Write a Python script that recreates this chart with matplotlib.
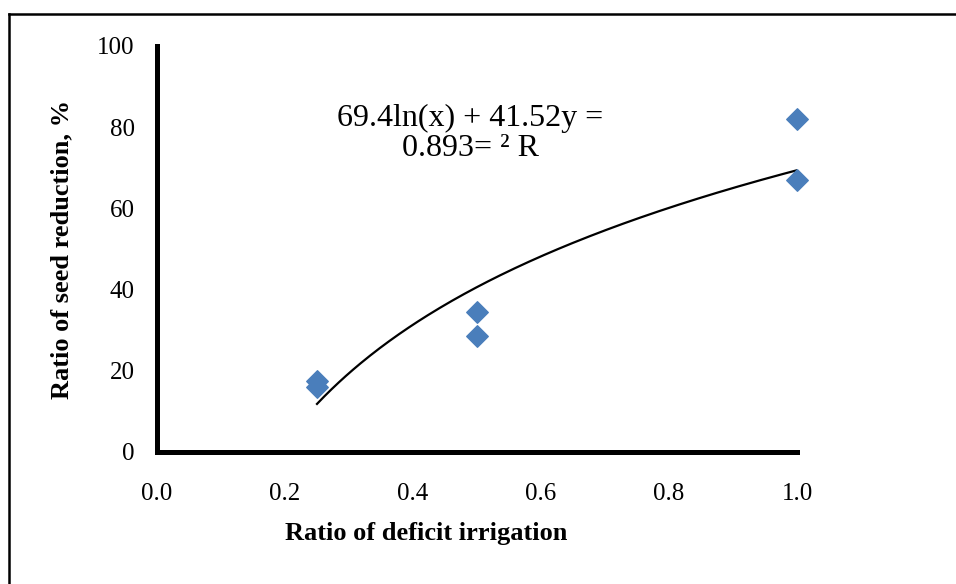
import numpy as np
import matplotlib.pyplot as plt
from matplotlib.lines import Line2D

# Data
deficit_ratio = [0.25, 0.25, 0.5, 0.5, 1.0, 1.0]
seed_reduction = [17.5, 16.0, 34.5, 28.5, 82.0, 67.0]

# Log trendline y = a*ln(x) + b
fit_a = 41.52
fit_b = 69.4
eq_text = "69.4ln(x) + 41.52y =\n0.893= \u00b2 R"

xticks = [0.0, 0.2, 0.4, 0.6, 0.8, 1.0]
yticks = [0, 20, 40, 60, 80, 100]

plt.rcParams['font.family'] = ['Liberation Serif', 'DejaVu Serif']

fig = plt.figure(figsize=(9.56, 5.84), dpi=100)
ax = fig.add_axes([157 / 956, 1 - 452 / 584, 640 / 956, 406 / 584])

ax.scatter(deficit_ratio, seed_reduction, marker='D', s=120, color='#4a7ebb',
           zorder=3, clip_on=False)

xs = np.linspace(0.25, 1.0, 200)
ax.plot(xs, fit_a * np.log(xs) + fit_b, color='black', lw=1.6, zorder=2)

ax.set_xlim(0, 1.0)
ax.set_ylim(0, 100)
ax.set_xticks(xticks)
ax.set_xticklabels([f"{t:.1f}" for t in xticks])
ax.set_yticks(yticks)
ax.tick_params(axis='both', length=0, labelsize=18)
ax.tick_params(axis='x', pad=22)
ax.tick_params(axis='y', pad=16)

for side in ['top', 'right']:
    ax.spines[side].set_visible(False)
for side in ['left', 'bottom']:
    ax.spines[side].set_linewidth(3.6)
    ax.spines[side].set_color('black')

ax.set_xlabel("Ratio of deficit irrigation", fontsize=19, fontweight='bold')
ax.xaxis.set_label_coords(0.42, -0.172)
ax.set_ylabel("Ratio of seed reduction, %", fontsize=19, fontweight='bold', labelpad=17)

ax.text(0.49, 0.785, eq_text, transform=ax.transAxes, ha='center', va='center',
        fontsize=23, linespacing=1.05)

# outer frame (top and left edges)
fig.add_artist(Line2D([9 / 956, 1], [1 - 14 / 584, 1 - 14 / 584], color='black', lw=1.8))
fig.add_artist(Line2D([9 / 956, 9 / 956], [0, 1 - 14 / 584], color='black', lw=1.8))

fig.savefig("out.png", dpi=100)
